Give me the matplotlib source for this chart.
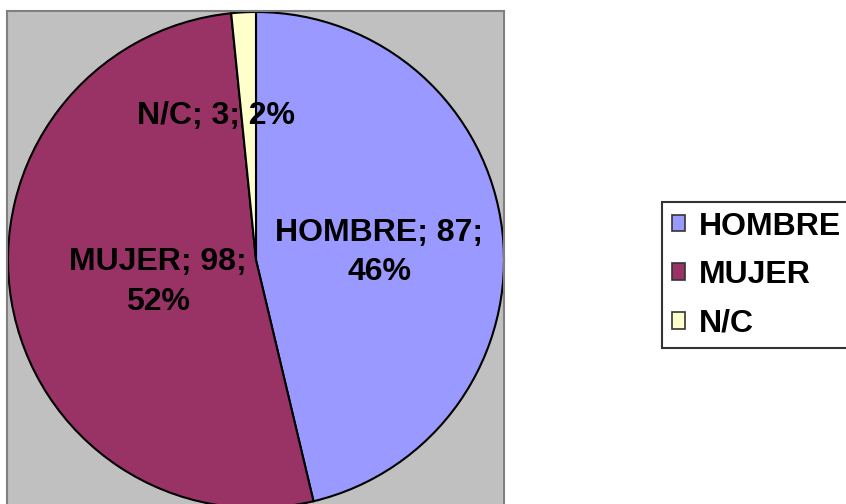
import numpy as np
import matplotlib.pyplot as plt

# data
categories = ['HOMBRE', 'MUJER', 'N/C']
counts = [87, 98, 3]
colors = ['#9999FF', '#993366', '#FFFFCC']

plt.rcParams['font.family'] = ['Liberation Sans', 'DejaVu Sans']

W, H = 846, 504
fig = plt.figure(figsize=(W / 100, H / 100), dpi=100)

# plot area in pixel units (y up), gray box runs off the bottom
x0, x1 = 7, 504
y0, y1 = -6, 493
ax = fig.add_axes([x0 / W, y0 / H, (x1 - x0) / W, (y1 - y0) / H])
ax.set_facecolor('#C0C0C0')

cx, cy, r = 256, 244, 248
wedges, _ = ax.pie(counts, colors=colors, startangle=90, counterclock=False,
                   center=(cx, cy), radius=r, frame=True,
                   wedgeprops=dict(edgecolor='black', linewidth=1.5))
ax.set_xlim(x0, x1)
ax.set_ylim(y0, y1)
ax.set_aspect('auto')
ax.set_xticks([])
ax.set_yticks([])
for s in ax.spines.values():
    s.set_color('#808080')
    s.set_linewidth(1.5)

total = sum(counts)
label_texts = []
for name, v in zip(categories, counts):
    pct = round(100 * v / total)
    if len(name) > 3:
        label_texts.append(f"{name}; {v};\n{pct}%")
    else:
        label_texts.append(f"{name}; {v}; {pct}%")

# radius fraction + small pixel nudge per label (Excel-like placement)
rfrac = [0.5, 0.41, 0.6]
nudge = [(0, -7), (2, -5), (-33, -5)]
for w, txt, rf, (dx, dy) in zip(wedges, label_texts, rfrac, nudge):
    mid = np.deg2rad((w.theta1 + w.theta2) / 2)
    px = cx + rf * r * np.cos(mid) + dx
    py = cy + rf * r * np.sin(mid) + dy
    ax.text(px, py, txt, ha='center', va='center', fontsize=23,
            fontweight='bold', linespacing=1.42, multialignment='center')

leg = fig.legend(wedges, categories, loc='upper left',
                 bbox_to_anchor=(662 / W, 1 - 202 / H), borderaxespad=0,
                 prop=dict(size=23, weight='bold'), frameon=True,
                 fancybox=False, edgecolor='black', handlelength=0.42,
                 handleheight=0.42, handletextpad=0.42, borderpad=0.3,
                 labelspacing=0.58)
leg.get_frame().set_linewidth(1.5)
for h in leg.legend_handles:
    h.set_edgecolor('#333333')
    h.set_linewidth(1.2)

fig.savefig('out.png', dpi=100)
